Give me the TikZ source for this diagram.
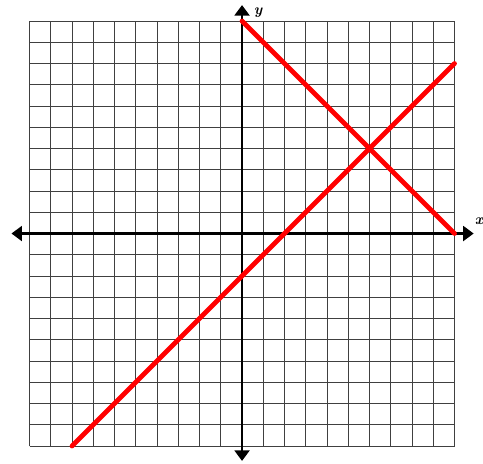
\documentclass[tikz,border=0pt]{standalone}
\usepackage{tikz}
\usetikzlibrary{arrows.meta}

\begin{document}
\begin{tikzpicture}[
  x=0.5cm, y=0.5cm,
  gridline/.style={draw=black!75, line width=0.6pt},
  axis/.style={{Triangle[length=7pt,width=10pt]}-{Triangle[length=7pt,width=10pt]}, line width=1.4pt, draw=black},
  graphline/.style={draw=red, line width=3.2pt, line cap=round},
  axislabel/.style={font=\normalsize\bfseries\itshape}
]
\useasboundingbox (-11.39,-10.8) rectangle (11.34,10.99);
% grid
\draw[gridline, step=0.5cm] (-10,-10) grid (10,10);
% axes
\draw[axis] (-10.85,0) -- (10.9,0);
\draw[axis] (0,-10.7) -- (0,10.75);
\node[axislabel] (xlabel) at (11.15,0.6) {x};
\node[axislabel] (ylabel) at (0.75,10.4) {y};
% lines
\coordinate (a1) at (0,10);
\coordinate (a2) at (10,0);
\coordinate (b1) at (-8,-10);
\coordinate (b2) at (10,8);
\draw[graphline] (a1) -- (a2);
\draw[graphline] (b1) -- (b2);
\end{tikzpicture}
\end{document}
